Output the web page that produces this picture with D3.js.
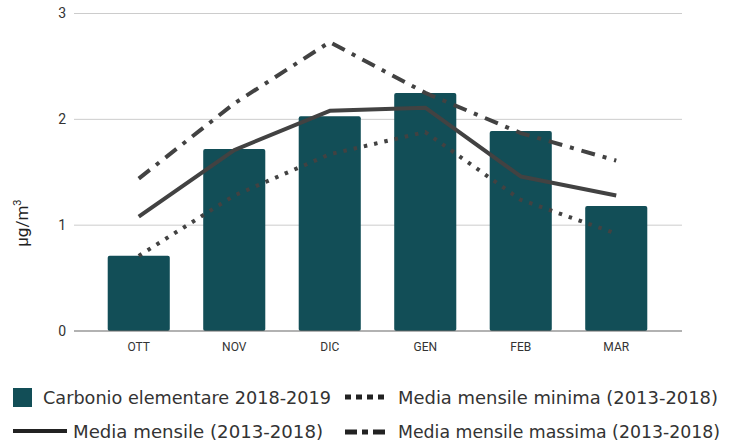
<!DOCTYPE html>
<html>
<head>
<meta charset="utf-8">
<script src="https://cdn.jsdelivr.net/npm/d3@7"></script>
<style>
  body { margin: 0; background: #fff; }
  svg { display: block; font-family: Roboto, sans-serif; }
</style>
</head>
<body>
<div id="vis"></div>
<script>
const FRAME_WIDTH = 735;
const FRAME_HEIGHT = 446;
const MARGINS = {left: 74, right: 53, top: 13.5, bottom: 115};

// data
const months = ['OTT', 'NOV', 'DIC', 'GEN', 'FEB', 'MAR'];
const carbonio = [0.71, 1.72, 2.03, 2.25, 1.89, 1.18];
const mediaMensile = [1.08, 1.71, 2.08, 2.11, 1.46, 1.28];
const mediaMinima = [0.71, 1.28, 1.67, 1.88, 1.24, 0.92];
const mediaMassima = [1.44, 2.15, 2.73, 2.25, 1.87, 1.61];
const yTicks = [0, 1, 2, 3];

const BAR_COLOR = '#124e57';
const LINE_COLOR = '#424242';

const VIS_WIDTH = FRAME_WIDTH - MARGINS.left - MARGINS.right;
const VIS_HEIGHT = FRAME_HEIGHT - MARGINS.top - MARGINS.bottom;

const svg = d3.select('#vis')
  .append('svg')
    .attr('width', FRAME_WIDTH)
    .attr('height', FRAME_HEIGHT);

const Y_SCALE = d3.scaleLinear()
  .domain([0, 3])
  .range([MARGINS.top + VIS_HEIGHT, MARGINS.top]);

// bars sit inside a narrower band than the gridlines
const X_SCALE = d3.scaleBand()
  .domain(months)
  .range([91, 664])
  .paddingInner(0.35)
  .paddingOuter(0.175);

// gridlines
svg.append('g')
  .selectAll('line')
  .data(yTicks.filter(d => d > 0))
  .enter()
  .append('line')
    .attr('x1', MARGINS.left)
    .attr('x2', MARGINS.left + VIS_WIDTH)
    .attr('y1', d => Y_SCALE(d))
    .attr('y2', d => Y_SCALE(d))
    .attr('stroke', '#cccccc')
    .attr('stroke-width', 1);

// y tick labels
svg.append('g')
  .selectAll('text')
  .data(yTicks)
  .enter()
  .append('text')
    .attr('x', 66)
    .attr('y', d => Y_SCALE(d))
    .attr('dy', '0.35em')
    .attr('text-anchor', 'end')
    .attr('font-size', 14)
    .attr('fill', '#333')
    .text(d => d);

// bars
svg.append('g')
  .selectAll('rect')
  .data(carbonio)
  .enter()
  .append('rect')
    .attr('x', (d, i) => X_SCALE(months[i]))
    .attr('y', d => Y_SCALE(d))
    .attr('width', X_SCALE.bandwidth())
    .attr('height', d => Y_SCALE(0) - Y_SCALE(d))
    .attr('rx', 2)
    .attr('fill', BAR_COLOR);

// zero line
svg.append('line')
  .attr('x1', MARGINS.left)
  .attr('x2', MARGINS.left + VIS_WIDTH)
  .attr('y1', Y_SCALE(0))
  .attr('y2', Y_SCALE(0))
  .attr('stroke', '#666')
  .attr('stroke-width', 1.2);

// x labels
svg.append('g')
  .selectAll('text')
  .data(months)
  .enter()
  .append('text')
    .attr('x', d => X_SCALE(d) + X_SCALE.bandwidth() / 2)
    .attr('y', 351)
    .attr('text-anchor', 'middle')
    .attr('font-size', 12)
    .attr('fill', '#333')
    .text(d => d);

// lines
const line = d3.line()
  .x((d, i) => X_SCALE(months[i]) + X_SCALE.bandwidth() / 2)
  .y(d => Y_SCALE(d));

const series = [
  {values: mediaMinima, dash: '3.5,7', width: 4},
  {values: mediaMassima, dash: '14,8,4,8', width: 4},
  {values: mediaMensile, dash: null, width: 4}
];

series.forEach(s => {
  svg.append('path')
    .datum(s.values)
    .attr('d', line)
    .attr('fill', 'none')
    .attr('stroke', LINE_COLOR)
    .attr('stroke-width', s.width)
    .attr('stroke-dasharray', s.dash)
    .attr('stroke-linejoin', 'round');
});

// y axis title
svg.append('text')
  .attr('transform', 'translate(28,' + (Y_SCALE(1) - 2) + ') rotate(-90)')
  .attr('text-anchor', 'middle')
  .attr('font-size', 17)
  .attr('fill', '#222')
  .html('μg/m<tspan dy="-7" font-size="11">3</tspan>');

// legend
const legendFont = "'DejaVu Sans Condensed', 'Liberation Sans Narrow', Roboto, sans-serif";
const legend = svg.append('g').attr('font-family', legendFont).attr('font-size', 18).attr('fill', '#333');

legend.append('rect')
  .attr('x', 13).attr('y', 388).attr('width', 19).attr('height', 19)
  .attr('fill', BAR_COLOR);
legend.append('text')
  .attr('x', 43).attr('y', 404)
  .attr('textLength', 288).attr('lengthAdjust', 'spacingAndGlyphs')
  .text('Carbonio elementare 2018-2019');

legend.append('line')
  .attr('x1', 345).attr('x2', 388).attr('y1', 397).attr('y2', 397)
  .attr('stroke', '#222').attr('stroke-width', 5).attr('stroke-dasharray', '6,5');
legend.append('text')
  .attr('x', 398).attr('y', 404)
  .attr('textLength', 320).attr('lengthAdjust', 'spacingAndGlyphs')
  .text('Media mensile minima (2013-2018)');

legend.append('line')
  .attr('x1', 13).attr('x2', 67).attr('y1', 431).attr('y2', 431)
  .attr('stroke', '#222').attr('stroke-width', 4);
legend.append('text')
  .attr('x', 73).attr('y', 438)
  .attr('textLength', 250).attr('lengthAdjust', 'spacingAndGlyphs')
  .text('Media mensile (2013-2018)');

legend.append('line')
  .attr('x1', 345).attr('x2', 388).attr('y1', 432).attr('y2', 432)
  .attr('stroke', '#222').attr('stroke-width', 5).attr('stroke-dasharray', '12,5,6,5,12');
legend.append('text')
  .attr('x', 398).attr('y', 438)
  .attr('textLength', 322).attr('lengthAdjust', 'spacingAndGlyphs')
  .text('Media mensile massima (2013-2018)');
</script>
</body>
</html>
